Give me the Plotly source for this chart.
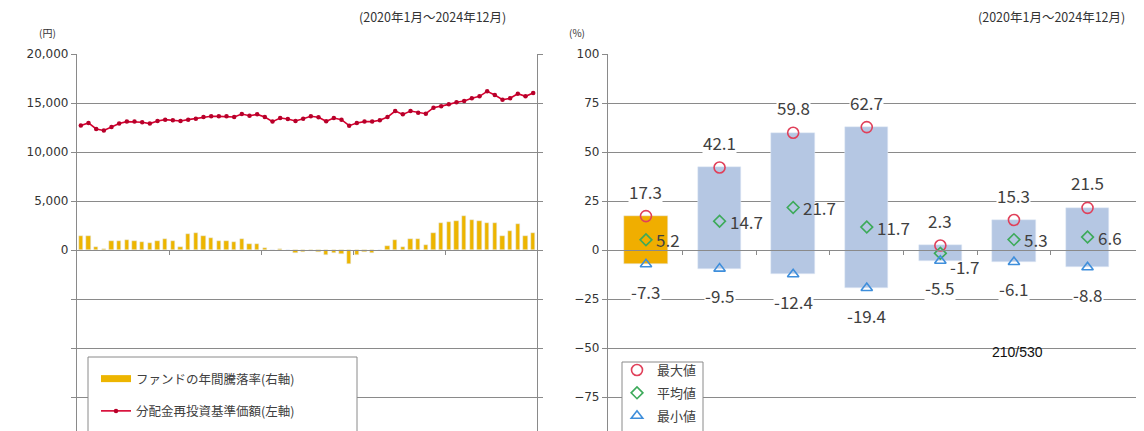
import plotly.graph_objects as go

# ---------------- data ----------------
nav = [12700, 12960, 12350, 12200, 12550, 12900, 13100, 13100, 13030, 12900,
       13160, 13300, 13230, 13160, 13300, 13400, 13570, 13640, 13640, 13640,
       13570, 13880, 13700, 13840, 13570, 13100, 13470, 13370, 13160, 13400,
       13640, 13540, 13130, 13470, 13300, 12690, 12960, 13100, 13100, 13230,
       13570, 14180, 13840, 14180, 14010, 13910, 14520, 14660, 14860, 15070,
       15200, 15480, 15680, 16190, 15820, 15340, 15480, 15950, 15680, 16020]
annual_ret = [7.1, 7.1, 1.4, 0.7, 4.4, 4.8, 4.9, 4.8, 4.1, 3.4,
              4.8, 5.4, 4.4, 1.7, 8.2, 8.8, 7.1, 6.1, 4.8, 4.4,
              4.1, 5.8, 3.1, 3.1, 1.0, 0.2, 0.5, 0.1, -1.4, -1.0,
              -0.7, -1.2, -2.4, -1.6, -2.0, -7.3, -2.5, -1.0, -1.5, -0.2,
              2.0, 5.1, 1.4, 5.8, 5.8, 2.7, 8.8, 13.6, 14.3, 14.6,
              17.3, 15.3, 15.0, 14.0, 14.0, 7.1, 9.9, 13.3, 7.1, 8.8]
month_idx = list(range(len(nav)))

assets = ["当ファンド", "日本株", "先進国株", "新興国株", "日本国債", "先進国債", "新興国債"]
max_v = [17.3, 42.1, 59.8, 62.7, 2.3, 15.3, 21.5]
avg_v = [5.2, 14.7, 21.7, 11.7, -1.7, 5.3, 6.6]
min_v = [-7.3, -9.5, -12.4, -19.4, -5.5, -6.1, -8.8]
asset_idx = list(range(len(assets)))

left_ticks = [-15000, -10000, -5000, 0, 5000, 10000, 15000, 20000]
right_ticks = [-75, -50, -25, 0, 25, 50, 75, 100]

# ---------------- style ----------------
FONT = "Noto Sans CJK JP"
TICKFONT = "DejaVu Sans"
GRID = "#8a8a8a"
TXT = "#404040"
GOLD = "#EDB500"
ORANGE = "#F0AE00"
BLUE = "#B5C7E3"
RED = "#D6002F"

# page body has an 8px margin: reference pixel p -> figure pixel p - 8
OFF = 8
W, H = 1144 - OFF, 431 - OFF
TOP = 54 - OFF
PLOT_H = H - TOP
PCT_RANGE = [100 - 25 * PLOT_H / 49.0, 100]
YEN_RANGE = [20000 - 5000 * PLOT_H / 49.0, 20000]
zero_pos = -PCT_RANGE[0] / (PCT_RANGE[1] - PCT_RANGE[0])


def px(p):
    return (p - OFF) / W


def py(p):
    return (H - (p - OFF)) / PLOT_H


fig = go.Figure()

# left chart: bars (right axis) and line (left axis)
fig.add_trace(go.Bar(x=month_idx, y=annual_ret, marker_color=GOLD, width=0.55,
                     xaxis="x", yaxis="y2", showlegend=False))
fig.add_trace(go.Scatter(x=[None], y=[None], mode="lines", line=dict(color=GOLD, width=7),
                         name="ファンドの年間騰落率(右軸)", legend="legend", legendgroup="a",
                         xaxis="x", yaxis="y"))
fig.add_trace(go.Scatter(x=month_idx, y=nav, mode="lines+markers",
                         line=dict(color=RED, width=1.6),
                         marker=dict(color="#B8002A", size=4.5),
                         name="分配金再投資基準価額(左軸)", legend="legend", legendgroup="b",
                         xaxis="x", yaxis="y"))

# right chart: floating bars min..max
bar_colors = [ORANGE] + [BLUE] * (len(assets) - 1)
fig.add_trace(go.Bar(x=asset_idx, y=[mx - mn for mx, mn in zip(max_v, min_v)], base=min_v,
                     marker_color=bar_colors, width=0.59, xaxis="x2", yaxis="y3",
                     showlegend=False))
fig.add_trace(go.Scatter(x=asset_idx, y=max_v, mode="markers", name="最大値",
                         marker=dict(symbol="circle-open", size=11, color="#E0405A",
                                     line=dict(width=1.6)),
                         legend="legend2", legendgroup="c", xaxis="x2", yaxis="y3"))
fig.add_trace(go.Scatter(x=asset_idx, y=avg_v, mode="markers", name="平均値",
                         marker=dict(symbol="diamond-open", size=9, color="#3DAA5A",
                                     line=dict(width=1.6)),
                         legend="legend2", legendgroup="d", xaxis="x2", yaxis="y3"))
fig.add_trace(go.Scatter(x=asset_idx, y=min_v, mode="markers", name="最小値",
                         marker=dict(symbol="triangle-up-open", size=10, color="#3E8EDB",
                                     line=dict(width=1.6)),
                         legend="legend2", legendgroup="e", xaxis="x2", yaxis="y3"))

LBL = dict(size=17, color=TXT, family=FONT)
annotations = []
for i, a in enumerate(asset_idx):
    annotations.append(dict(x=a, y=max_v[i], xref="x2", yref="y3", text=f"{max_v[i]:.1f}",
                            showarrow=False, yshift=25, bgcolor="white", font=LBL,
                            borderpad=0))
    annotations.append(dict(x=a, y=min_v[i], xref="x2", yref="y3", text=f"{min_v[i]:.1f}",
                            showarrow=False, yshift=-27, bgcolor="white", font=LBL,
                            borderpad=0))
    annotations.append(dict(x=a, y=avg_v[i], xref="x2", yref="y3", text=f"{avg_v[i]:.1f}",
                            showarrow=False, xanchor="left", xshift=8,
                            yshift=(-13 if avg_v[i] < 0 else 0), font=LBL))


def note(x, y, text, size, family=FONT, color="#333"):
    return dict(x=px(x), y=py(y), xref="paper", yref="paper", text=text, showarrow=False,
                xanchor="center", yanchor="middle",
                font=dict(size=size, color=color, family=family))


annotations += [
    note(433, 17, "(2020年1月～2024年12月)", 12.5),
    note(1051, 17, "(2020年1月～2024年12月)", 12.5),
    note(47, 33, "(円)", 10),
    note(577, 33, "(%)", 10),
    note(1017, 352, "210/530", 14, "Liberation Sans", "#111"),
]

# legend frames (white boxes, cut by the bottom edge as in the source)
shapes = [
    dict(type="rect", xref="paper", yref="paper", x0=px(88), x1=px(357),
         y0=py(445), y1=py(357), line=dict(color=GRID, width=1), fillcolor="white",
         layer="above"),
    dict(type="rect", xref="paper", yref="paper", x0=px(622), x1=px(703),
         y0=py(445), y1=py(362), line=dict(color=GRID, width=1), fillcolor="white",
         layer="above"),
]

axis_common = dict(showline=True, linecolor=GRID, linewidth=1.2, ticks="outside",
                   tickcolor=GRID, ticklen=5, zeroline=False)

fig.update_layout(
    width=W, height=H,
    margin=dict(l=0, r=0, t=TOP, b=0),
    paper_bgcolor="white", plot_bgcolor="white",
    font=dict(family=FONT, color=TXT),
    bargap=0,
    xaxis=dict(domain=[px(77), px(537)], range=[-0.5, len(nav) - 0.5], anchor="free",
               position=zero_pos, showline=True, linecolor=GRID, linewidth=1.2,
               ticks="outside", ticklen=4, tickcolor=GRID,
               tickvals=[11.5, 23.5, 35.5, 47.5], showticklabels=False, showgrid=False,
               zeroline=False),
    yaxis=dict(domain=[0, 1], range=YEN_RANGE, tickvals=left_ticks,
               ticktext=[f"{v:,}" if v >= 0 else "" for v in left_ticks],
               showgrid=True, gridcolor=GRID, gridwidth=1.2, anchor="x",
               tickfont=dict(size=12, color="#333", family=TICKFONT), **axis_common),
    yaxis2=dict(range=PCT_RANGE, overlaying="y", side="right", anchor="x",
                tickvals=right_ticks, showticklabels=False, showgrid=False, **axis_common),
    xaxis2=dict(domain=[px(608), px(1142)], range=[-0.516, 6.74], anchor="free",
                position=zero_pos, showline=True, linecolor=GRID, linewidth=1.2,
                ticks="outside", ticklen=4, tickcolor=GRID,
                tickvals=[0.5, 1.5, 2.5, 3.5, 4.5, 5.5], showticklabels=False,
                showgrid=False, zeroline=False),
    yaxis3=dict(domain=[0, 1], range=PCT_RANGE, anchor="x2", tickvals=right_ticks,
                showgrid=True, gridcolor=GRID, gridwidth=1.2,
                tickfont=dict(size=12, color="#333", family=TICKFONT), **axis_common),
    legend=dict(x=px(96), y=py(364), xanchor="left", yanchor="top",
                bgcolor="rgba(0,0,0,0)", borderwidth=0, traceorder="grouped",
                tracegroupgap=13, font=dict(size=12.5, color=TXT, family=FONT),
                itemwidth=30),
    legend2=dict(x=px(617), y=0, xanchor="left", yanchor="bottom",
                 bgcolor="rgba(0,0,0,0)", borderwidth=0, traceorder="grouped",
                 tracegroupgap=3, font=dict(size=13, color=TXT, family=FONT),
                 itemwidth=30),
    shapes=shapes,
    annotations=annotations,
)

fig.write_html("out.html")
